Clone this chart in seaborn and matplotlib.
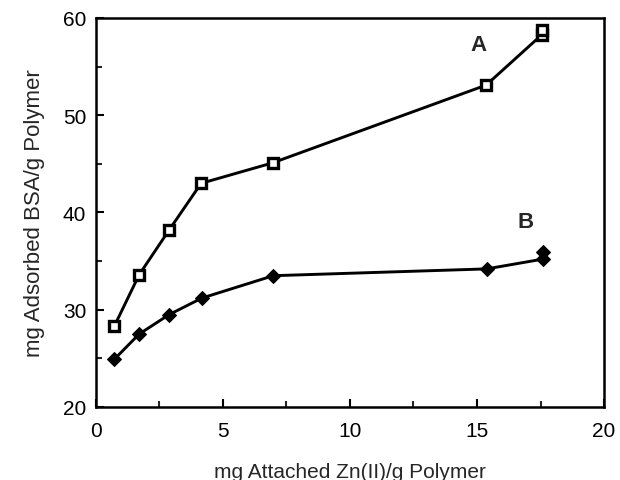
import matplotlib
matplotlib.use("Agg")
import matplotlib.pyplot as plt
from matplotlib.ticker import MultipleLocator
import seaborn as sns
import pandas as pd

x_a = [0.72, 1.70, 2.88, 4.14, 6.95, 15.36, 17.56, 17.56]
y_a = [28.3, 33.6, 38.2, 43.0, 45.1, 53.1, 58.3, 58.8]
x_b = [0.72, 1.70, 2.88, 4.17, 6.98, 15.38, 17.58, 17.58]
y_b = [24.9, 27.5, 29.5, 31.2, 33.5, 34.2, 35.2, 35.9]
labels = ["A", "B"]
label_pos = [(15.04, 57.3), (16.93, 39.1)]

sns.set_theme(style="white")
plt.rcParams['font.family'] = ['Liberation Sans', 'DejaVu Sans']

df_a = pd.DataFrame({"x": x_a, "y": y_a})
df_b = pd.DataFrame({"x": x_b, "y": y_b})

fig = plt.figure(figsize=(6.2, 4.81), dpi=100)
ax = fig.add_axes([0.1548, 0.1518, 0.8194, 0.8087])

sns.lineplot(data=df_a, x="x", y="y", ax=ax, estimator=None, sort=False,
             color="black", linewidth=2.1, marker="s", markersize=7,
             markerfacecolor="white", markeredgecolor="black", markeredgewidth=2.4)
sns.lineplot(data=df_b, x="x", y="y", ax=ax, estimator=None, sort=False,
             color="black", linewidth=2.1, marker="D", markersize=7,
             markerfacecolor="black", markeredgecolor="black")

for lab, (lx, ly) in zip(labels, label_pos):
    ax.text(lx, ly, lab, fontsize=16, fontweight="bold", ha="center", va="center")

ax.set_xlim(0, 20)
ax.set_ylim(20, 60)
ax.xaxis.set_major_locator(MultipleLocator(5))
ax.xaxis.set_minor_locator(MultipleLocator(2.5))
ax.yaxis.set_major_locator(MultipleLocator(10))
ax.yaxis.set_minor_locator(MultipleLocator(5))
ax.tick_params(axis="x", which="major", pad=10)
ax.tick_params(axis="y", which="major", pad=7)
ax.tick_params(axis="both", which="major", direction="in", length=6, width=1.5,
               labelsize=15, colors="black", bottom=True, left=True)
ax.tick_params(axis="both", which="minor", direction="in", length=4, width=1.5,
               bottom=True, left=True)
for s in ax.spines.values():
    s.set_color("black")
    s.set_linewidth(1.8)
ax.set_xlabel("mg Attached Zn(II)/g Polymer", fontsize=15, labelpad=16)
ax.set_ylabel("mg Adsorbed BSA/g Polymer", fontsize=16, labelpad=13)

fig.savefig("out.png", dpi=100)
